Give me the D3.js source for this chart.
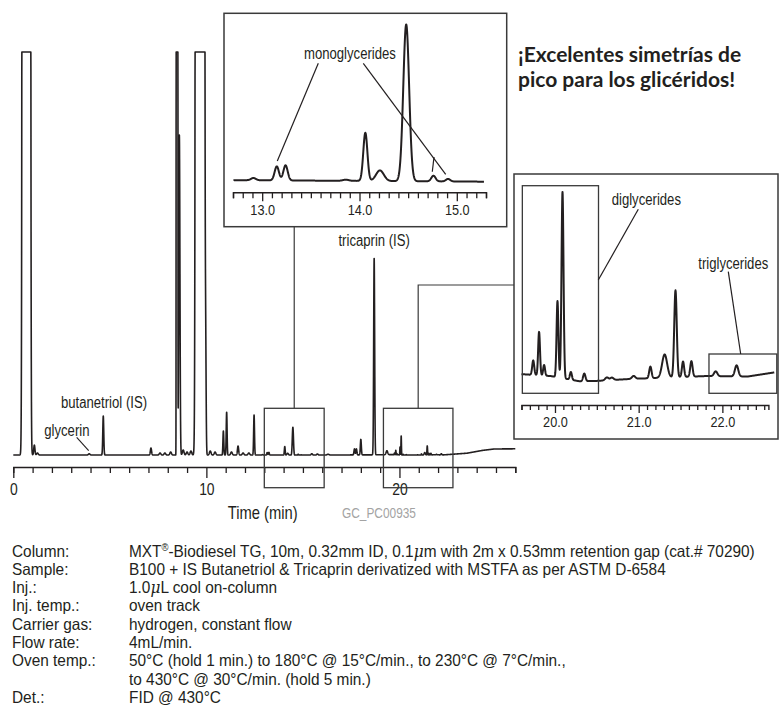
<!DOCTYPE html>
<html>
<head>
<meta charset="utf-8">
<script src="https://cdn.jsdelivr.net/npm/d3@7"></script>
<style>
  body { margin: 0; background: #fff; }
  svg { display: block; font-family: "Liberation Sans", Arial, sans-serif; }
</style>
</head>
<body>
<svg id="chart" width="779" height="706"></svg>
<script>
// ---- Peak tables: [retention time (min), height (detector units), sigma (min)] ----
// Heights above this many units run off the top of the main trace.
const earlyPeaks = [
  [0.676, 1e6, 0.0595], [1.09, 10, 0.03], [1.25, 2, 0.04], [3.93, 1.2, 0.04],
  [4.66, 39, 0.025], [7.13, 7, 0.03], [7.6, 2, 0.04], [7.85, 2, 0.04], [8.15, 3, 0.04],
  [8.48, 1e6, 0.012], [8.6, 320, 0.03], [8.8, 5, 0.04], [9.0, 3, 0.04], [9.2, 4, 0.04],
  [9.67, 1e6, 0.065], [9.96, 110, 0.025], [10.2, 4, 0.04], [10.45, 3, 0.04],
  [10.88, 24, 0.022], [11.05, 43, 0.022], [11.3, 3, 0.04], [11.64, 9, 0.03],
  [11.9, 2, 0.04], [12.2, 2, 0.04], [12.47, 40, 0.022]
];
const monoPeaks = [
  [12.91, 0.4, 0.025], [13.15, 2.5, 0.022], [13.24, 2.7, 0.022], [13.86, 0.2, 0.03],
  [14.06, 8.6, 0.021], [14.21, 1.9, 0.04], [14.48, 28, 0.03], [14.76, 1.0, 0.022],
  [14.91, 0.45, 0.022]
];
const midPeaks = [
  [15.46, 1.5, 0.04], [15.75, 1.2, 0.04], [16.3, 0.8, 0.05], [17.67, 6, 0.025],
  [17.77, 6, 0.025], [18.0, 15.5, 0.025], [18.69, 197, 0.025], [19.35, 4, 0.04]
];
const diTriPeaks = [
  [19.74, 1.5, 0.012], [19.81, 4.5, 0.011], [19.87, 1.1, 0.011], [20.03, 7.9, 0.011],
  [20.09, 19.3, 0.012], [20.19, 0.8, 0.012], [20.35, 0.8, 0.014], [20.62, 0.3, 0.02],
  [20.68, 0.25, 0.02], [20.94, 0.3, 0.02], [21.14, 1.2, 0.014], [21.31, 2.4, 0.03],
  [21.44, 9.0, 0.015], [21.53, 1.6, 0.013], [21.63, 1.6, 0.014], [21.92, 0.5, 0.02],
  [22.17, 1.15, 0.02]
];
// Baseline drift (column bleed at the end of the oven program)
const driftTimes  = [0, 12.5, 15.3, 16.5, 19.0, 19.6, 19.95, 20.3, 20.5, 20.9, 21.8, 22.3, 22.6, 23.5, 24.3, 24.9, 26.0];
const driftLevels = [0, 0, -0.3, 0, 0.2, 0.4, 0.2, -0.35, -0.3, -0.1, 0.2, 0.15, 0.55, 1.8, 4.6, 6.0, 6.2];

// Axis ticks
const mainTicks = d3.range(0, 27);
const monoTicks = d3.range(127, 154).map(d => d / 10);
const diTriTicks = d3.range(196, 226).map(d => d / 10);

// Annotation texts
const specLabels = ["Column:", "Sample:", "Inj.:", "Inj. temp.:", "Carrier gas:", "Flow rate:", "Oven temp.:", "", "Det.:"];
const specValues = [
  "MXT®-Biodiesel TG, 10m, 0.32mm ID, 0.1μm with 2m x 0.53mm retention gap (cat.# 70290)",
  "B100 + IS Butanetriol & Tricaprin derivatized with MSTFA as per ASTM D-6584",
  "1.0μL cool on-column",
  "oven track",
  "hydrogen, constant flow",
  "4mL/min.",
  "50°C (hold 1 min.) to 180°C @ 15°C/min., to 230°C @ 7°C/min.,",
  "to 430°C @ 30°C/min. (hold 5 min.)",
  "FID @ 430°C"
];
const titleLines = ["¡Excelentes simetrías de", "pico para los glicéridos!"];

// ---- Signal model ----
const allPeaks = [...earlyPeaks, ...monoPeaks, ...midPeaks, ...diTriPeaks];
const drift = d3.scaleLinear().domain(driftTimes).range(driftLevels).clamp(true);
function signal(t) {
  let s = drift(t);
  for (const [c, h, sd] of allPeaks) {
    const z = (t - c) / sd;
    if (z > -10 && z < 10) s += h * Math.exp(-0.5 * z * z);
  }
  return s;
}
function trace(t0, t1, step) {
  return d3.range(t0, t1 + step / 2, step).map(t => [t, signal(t)]);
}

const ink = "#231f20";
const NARROW = 0.82;   // horizontal squeeze for the condensed label face
const svg = d3.select("#chart");

// Condensed text helper: real text, squeezed horizontally around its anchor point
function label(parent, txt, px, py, size, opts = {}) {
  return parent.append("text")
    .attr("transform", `translate(${px},${py}) scale(${opts.sx || NARROW},1)`)
    .attr("text-anchor", opts.anchor || "start")
    .attr("font-size", size)
    .attr("fill", opts.fill || ink)
    .text(txt);
}

// ---- Main chromatogram ----
const x = d3.scaleLinear().domain([0, 26]).range([13.3, 515.3]);
const y = d3.scaleLinear().domain([0, 403]).range([455, 52]).clamp(true);

svg.append("path")
  .datum(trace(0, 26, 0.004))
  .attr("fill", "none").attr("stroke", ink).attr("stroke-width", 1.6)
  .attr("stroke-linejoin", "round")
  .attr("d", d3.line().x(d => x(d[0])).y(d => y(d[1])));

function styleAxis(g, isMajor, minorLen, majorLen, labelY, fontSize) {
  g.attr("font-family", null).attr("font-size", null);
  g.select(".domain").attr("stroke", ink).attr("stroke-width", 1.4);
  g.selectAll(".tick line").attr("stroke", ink).attr("stroke-width", 1.3)
    .attr("y2", d => isMajor(d) ? majorLen : minorLen);
  g.selectAll(".tick text").attr("fill", ink).attr("font-size", fontSize)
    .attr("y", 0).attr("dy", "0.71em")
    .attr("transform", `translate(0,${labelY}) scale(${NARROW},1)`);
}

const isInt = d => Math.abs(d - Math.round(d)) < 1e-6;
const mainAxis = svg.append("g").attr("transform", "translate(0,467)")
  .call(d3.axisBottom(x).tickValues(mainTicks).tickSizeOuter(0).tickSize(6)
    .tickFormat(d => d % 10 === 0 ? d : ""));
styleAxis(mainAxis, d => d % 10 === 0, 6, 11, 16, 17);

label(svg, "Time (min)", 262.7, 518.5, 18, { anchor: "middle" });
label(svg, "GC_PC00935", 342, 517.5, 14.5, { fill: "#a3a3a3" });

// Peak labels on the main trace
label(svg, "butanetriol (IS)", 61, 408, 16);
label(svg, "glycerin", 44.3, 435.5, 16);
label(svg, "tricaprin (IS)", x(18.69), 246, 16, { anchor: "middle" });
svg.append("line").attr("x1", 76.7).attr("y1", 437.3).attr("x2", x(3.93) - 0.5).attr("y2", 450.7)
  .attr("stroke", ink).attr("stroke-width", 1.1);

// Zoom windows on the main trace and their connectors
const boxStroke = "#3a3a3a";
const zoomWins = [[13.0, 16.1], [19.17, 22.77]];
zoomWins.forEach(([a, b]) => {
  svg.append("rect").attr("x", x(a)).attr("y", 408.3).attr("width", x(b) - x(a)).attr("height", 79.4)
    .attr("fill", "none").attr("stroke", boxStroke).attr("stroke-width", 1.3);
});
const c1 = x((zoomWins[0][0] + zoomWins[0][1]) / 2);
const c2 = x((zoomWins[1][0] + zoomWins[1][1]) / 2);
svg.append("path").attr("d", `M${c1},408.3V226.7`).attr("fill", "none").attr("stroke", boxStroke).attr("stroke-width", 1.2);
svg.append("path").attr("d", `M${c2},408.3V285H514`).attr("fill", "none").attr("stroke", boxStroke).attr("stroke-width", 1.2);

// ---- Inset: monoglycerides ----
svg.append("rect").attr("x", 224).attr("y", 13.3).attr("width", 282.7).attr("height", 213.4)
  .attr("fill", "#fff").attr("stroke", boxStroke).attr("stroke-width", 1.5);
const xIn1 = d3.scaleLinear().domain([12.7, 15.3]).range([233, 486]);
const yIn1 = d3.scaleLinear().domain([0, 28]).range([180, 23.3]);
svg.append("path")
  .datum(trace(12.705, 15.28, 0.002))
  .attr("fill", "none").attr("stroke", ink).attr("stroke-width", 2)
  .attr("stroke-linejoin", "round")
  .attr("d", d3.line().x(d => xIn1(d[0])).y(d => yIn1(d[1])));
const ax1 = svg.append("g").attr("transform", "translate(0,192.3)")
  .call(d3.axisBottom(xIn1).tickValues(monoTicks).tickSizeOuter(0).tickSize(6)
    .tickFormat(d => isInt(d) ? d3.format(".1f")(d) : ""));
styleAxis(ax1, isInt, 6, 9, 12, 15.5);

label(svg, "monoglycerides", 304, 58.5, 16);
[[318.3, 63.3, 277.3, 161], [363.3, 63.3, 445.7, 174.3], [434, 157, 432.3, 171.7]].forEach(([a, b, c, d]) =>
  svg.append("line").attr("x1", a).attr("y1", b).attr("x2", c).attr("y2", d)
    .attr("stroke", ink).attr("stroke-width", 1.2));

// ---- Inset: di- and triglycerides ----
svg.append("rect").attr("x", 514).attr("y", 174).attr("width", 264).attr("height", 265)
  .attr("fill", "#fff").attr("stroke", boxStroke).attr("stroke-width", 1.5);
const xIn2 = d3.scaleLinear().domain([19.6, 22.55]).range([521.5, 768.4]);
const yIn2 = d3.scaleLinear().domain([0, 19.3]).range([378, 191.7]);
svg.append("path")
  .datum(trace(19.6, 22.62, 0.002))
  .attr("fill", "none").attr("stroke", ink).attr("stroke-width", 2)
  .attr("stroke-linejoin", "round")
  .attr("d", d3.line().x(d => xIn2(d[0])).y(d => yIn2(d[1])));
const ax2 = svg.append("g").attr("transform", "translate(0,405)")
  .call(d3.axisBottom(xIn2).tickValues(diTriTicks).tickSizeOuter(0).tickSize(5)
    .tickFormat(d => isInt(d) ? d3.format(".1f")(d) : ""));
styleAxis(ax2, isInt, 5, 8, 11, 15.5);

const groupWins = [[19.61, 20.52, 185.7], [21.84, 22.65, 354]];
groupWins.forEach(([a, b, top]) => {
  svg.append("rect").attr("x", xIn2(a)).attr("y", top).attr("width", xIn2(b) - xIn2(a)).attr("height", 393.3 - top)
    .attr("fill", "none").attr("stroke", boxStroke).attr("stroke-width", 1.3);
});
label(svg, "diglycerides", 611.7, 204.5, 16);
label(svg, "triglycerides", 698.3, 268.5, 16);
[[638.3, 209.3, 598.3, 280], [728.3, 271.7, 740.7, 354]].forEach(([a, b, c, d]) =>
  svg.append("line").attr("x1", a).attr("y1", b).attr("x2", c).attr("y2", d)
    .attr("stroke", ink).attr("stroke-width", 1.2));

// ---- Heading ----
svg.append("g").selectAll("text").data(titleLines).join("text")
  .attr("x", 518).attr("y", (d, i) => 62 + i * 24.5)
  .attr("font-family", "Lato, 'Open Sans', sans-serif").attr("font-weight", 700)
  .attr("font-size", 21).attr("fill", ink).text(d => d);

// ---- Run conditions ----
const spec = svg.append("g");
const SPEC_SIZE = 16.3, SPEC_SX = 0.945;
specLabels.forEach((t, i) => {
  label(spec, t, 12, 556.5 + i * 18.3, SPEC_SIZE, { sx: SPEC_SX });
});
specValues.forEach((t, i) => {
  const txt = label(spec, "", 129, 556.5 + i * 18.3, SPEC_SIZE, { sx: SPEC_SX });
  t.split(/([μ®])/).filter(s => s.length).forEach(s => {
    const ts = txt.append("tspan").text(s);
    if (s === "μ") ts.attr("font-style", "italic").attr("font-family", "'DejaVu Serif', serif");
    if (s === "®") ts.attr("font-size", 10).attr("dy", -6);
    if (s !== "®" && s.startsWith("-")) ts.attr("dy", 6);
  });
});
</script>
</body>
</html>
